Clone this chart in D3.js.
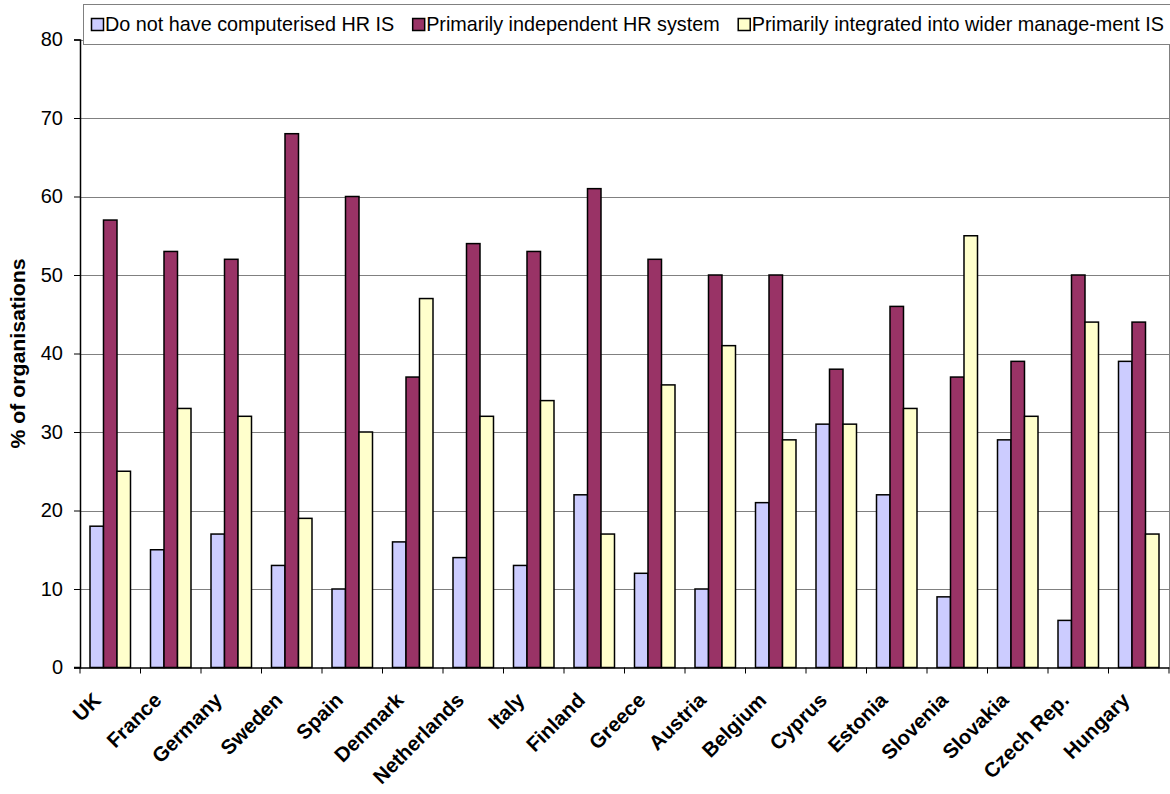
<!DOCTYPE html>
<html>
<head>
<meta charset="utf-8">
<script src="https://cdn.jsdelivr.net/npm/d3@7"></script>
<style>
  html, body { margin: 0; padding: 0; background: #fff; }
  svg { display: block; font-family: "Liberation Sans", Arial, sans-serif; }
</style>
</head>
<body>
<svg id="chart" width="1170" height="794"></svg>
<script>
const categories = ["UK","France","Germany","Sweden","Spain","Denmark","Netherlands","Italy","Finland","Greece","Austria","Belgium","Cyprus","Estonia","Slovenia","Slovakia","Czech Rep.","Hungary"];
const seriesNames = ["Do not have computerised HR IS","Primarily independent HR system","Primarily integrated into wider manage-ment IS"];
const noHRIS      = [18,15,17,13,10,16,14,13,22,12,10,21,31,22, 9,29, 6,39];
const independent = [57,53,52,68,60,37,54,53,61,52,50,50,38,46,37,39,50,44];
const integrated  = [25,33,32,19,30,47,32,34,17,36,41,29,31,33,55,32,44,17];
const seriesColors = ["#CCCCFF","#993366","#FFFFCC"];
const yTicks = [0,10,20,30,40,50,60,70,80];
const yLabel = "% of organisations";

(function () {
const allSeries = [noHRIS, independent, integrated];
const svg = d3.select("#chart");
const pL = 80, pR = 1169, pT = 39.5, pB = 667.5;

const x0 = d3.scaleBand().domain(categories).range([pL, pR]).paddingInner(0.3306).paddingOuter(0.1653);
const x1 = d3.scaleBand().domain(d3.range(3)).range([0, x0.bandwidth()]);
const y = d3.scaleLinear().domain([0, 80]).range([pB, pT]);

// gridlines
svg.append("g").selectAll("line").data(yTicks.filter(d => d > 0)).join("line")
  .attr("x1", pL).attr("x2", pR)
  .attr("y1", d => Math.round(y(d)) + 0.5).attr("y2", d => Math.round(y(d)) + 0.5)
  .attr("stroke", "#808080").attr("stroke-width", 1);

// right plot border
svg.append("line").attr("x1", pR + 0.5).attr("x2", pR + 0.5)
  .attr("y1", pT).attr("y2", pB).attr("stroke", "#808080");

// bars
const groups = svg.append("g").selectAll("g").data(categories).join("g")
  .attr("transform", d => `translate(${x0(d)},0)`);
groups.selectAll("rect").data((c, i) => allSeries.map((s, k) => ({k, v: s[i]}))).join("rect")
  .attr("x", d => x1(d.k))
  .attr("y", d => y(d.v))
  .attr("width", x1.bandwidth())
  .attr("height", d => y(0) - y(d.v))
  .attr("fill", d => seriesColors[d.k])
  .attr("stroke", "#000").attr("stroke-width", 1.5);

// y axis
const yAxis = svg.append("g").attr("transform", `translate(${pL},0)`)
  .call(d3.axisLeft(y).tickValues(yTicks).tickSize(6).tickPadding(11));
yAxis.select(".domain").attr("stroke", "#000").attr("stroke-width", 1.5);
yAxis.selectAll(".tick line").attr("stroke", "#000");
yAxis.selectAll(".tick text").attr("font-size", 20).attr("fill", "#000")
  .attr("font-family", "Liberation Sans, Arial, sans-serif");

// x axis
const xAxis = svg.append("g").attr("transform", `translate(0,${pB})`)
  .call(d3.axisBottom(x0).tickSize(0).tickFormat(""));
xAxis.select(".domain").attr("stroke", "#000").attr("stroke-width", 1.5);
const step = x0.step();
svg.append("g").selectAll("line").data(d3.range(categories.length + 1)).join("line")
  .attr("x1", i => pL + i * step).attr("x2", i => pL + i * step)
  .attr("y1", pB).attr("y2", pB + 6)
  .attr("stroke", "#000");
svg.append("line").attr("x1", pL - 6).attr("x2", pL).attr("y1", pB).attr("y2", pB).attr("stroke", "#000").attr("stroke-width", 1.5);

// category labels
svg.append("g").selectAll("text").data(categories).join("text")
  .attr("transform", d => `translate(${x0(d) + x0.bandwidth() / 2 - 8},${pB + 34}) rotate(-45)`)
  .attr("text-anchor", "end")
  .attr("font-size", 20.5).attr("font-weight", "bold")
  .text(d => d);

// y label
svg.append("text")
  .attr("transform", `translate(25,${(pT + pB) / 2}) rotate(-90)`)
  .attr("text-anchor", "middle")
  .attr("font-size", 19.5).attr("font-weight", "bold")
  .attr("textLength", 190).attr("lengthAdjust", "spacingAndGlyphs")
  .text(yLabel);

// legend
const lg = svg.append("g");
lg.append("rect").attr("x", 83.5).attr("y", 4.5).attr("width", 1100).attr("height", 40)
  .attr("fill", "#fff").attr("stroke", "#808080");
let cx = 91;
seriesNames.forEach((name, k) => {
  lg.append("rect").attr("x", cx + 0.5).attr("y", 18.5).attr("width", 12).attr("height", 12)
    .attr("fill", seriesColors[k]).attr("stroke", "#000").attr("stroke-width", 1.5);
  const t = lg.append("text").attr("x", cx + 14).attr("y", 31).attr("font-size", 19.8).text(name);
  const w = t.node().getComputedTextLength();
  cx = cx + 14 + w + 18;
});
})();
</script>
</body>
</html>
